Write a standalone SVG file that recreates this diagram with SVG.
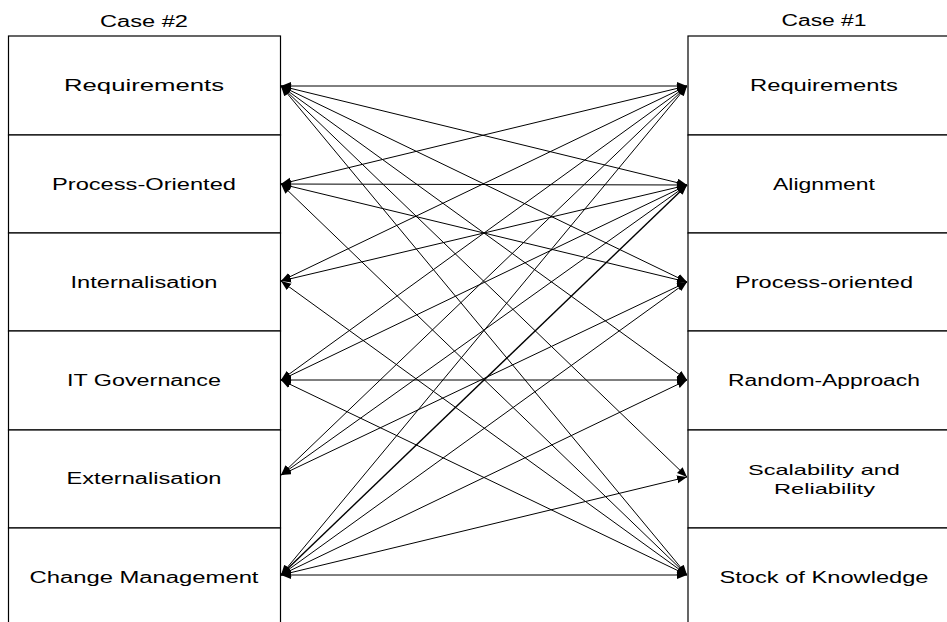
<svg xmlns="http://www.w3.org/2000/svg" width="947" height="622" viewBox="0 0 947 622">
  <style>
    .cell { fill: #ffffff; stroke: #000000; stroke-width: 1.2; }
    .label { font-family: "Liberation Sans", Arial, sans-serif; font-size: 16px; fill: #000000; text-anchor: middle; }
    .small { font-size: 15px; }
    .link { stroke: #000000; stroke-width: 1; fill: none; marker-start: url(#head); marker-end: url(#head); }
    .bold { stroke-width: 1.4; }
  </style>
  <defs>
    <marker id="head" markerUnits="userSpaceOnUse" markerWidth="11" markerHeight="9" refX="10" refY="4" orient="auto-start-reverse">
      <path d="M0,0 L10,4 L0,8 z" fill="#000000"/>
    </marker>
  </defs>
  <rect width="947" height="622" fill="#ffffff"/>

  <!-- column titles -->
  <text class="label" x="144" y="27" textLength="88" lengthAdjust="spacingAndGlyphs">Case #2</text>
  <text class="label" x="824" y="26" textLength="85" lengthAdjust="spacingAndGlyphs">Case #1</text>

  <!-- Case #2 column -->
  <g id="c2-requirements">
    <rect class="cell" x="8.5" y="36" width="272" height="99"/>
    <text class="label" x="144" y="91" textLength="160" lengthAdjust="spacingAndGlyphs">Requirements</text>
  </g>
  <g id="c2-process-oriented">
    <rect class="cell" x="8.5" y="135" width="272" height="98"/>
    <text class="label" x="144" y="190" textLength="184" lengthAdjust="spacingAndGlyphs">Process-Oriented</text>
  </g>
  <g id="c2-internalisation">
    <rect class="cell" x="8.5" y="233" width="272" height="98"/>
    <text class="label" x="144" y="288" textLength="147" lengthAdjust="spacingAndGlyphs">Internalisation</text>
  </g>
  <g id="c2-it-governance">
    <rect class="cell" x="8.5" y="331" width="272" height="99"/>
    <text class="label" x="144" y="386" textLength="154" lengthAdjust="spacingAndGlyphs">IT Governance</text>
  </g>
  <g id="c2-externalisation">
    <rect class="cell" x="8.5" y="430" width="272" height="98"/>
    <text class="label" x="144" y="484" textLength="155" lengthAdjust="spacingAndGlyphs">Externalisation</text>
  </g>
  <g id="c2-change-management">
    <rect class="cell" x="8.5" y="528" width="272" height="110"/>
    <text class="label" x="144" y="583" textLength="229" lengthAdjust="spacingAndGlyphs">Change Management</text>
  </g>

  <!-- Case #1 column -->
  <g id="c1-requirements">
    <rect class="cell" x="688" y="36" width="280" height="99"/>
    <text class="label" x="824" y="91" textLength="148" lengthAdjust="spacingAndGlyphs">Requirements</text>
  </g>
  <g id="c1-alignment">
    <rect class="cell" x="688" y="135" width="280" height="98"/>
    <text class="label" x="824" y="190" textLength="102" lengthAdjust="spacingAndGlyphs">Alignment</text>
  </g>
  <g id="c1-process-oriented">
    <rect class="cell" x="688" y="233" width="280" height="98"/>
    <text class="label" x="824" y="288" textLength="178" lengthAdjust="spacingAndGlyphs">Process-oriented</text>
  </g>
  <g id="c1-random-approach">
    <rect class="cell" x="688" y="331" width="280" height="99"/>
    <text class="label" x="824" y="386" textLength="192" lengthAdjust="spacingAndGlyphs">Random-Approach</text>
  </g>
  <g id="c1-scalability">
    <rect class="cell" x="688" y="430" width="280" height="98"/>
    <text class="label small" x="824" y="475" textLength="152" lengthAdjust="spacingAndGlyphs">Scalability and</text>
    <text class="label small" x="824.5" y="494" textLength="101" lengthAdjust="spacingAndGlyphs">Reliability</text>
  </g>
  <g id="c1-stock-of-knowledge">
    <rect class="cell" x="688" y="528" width="280" height="110"/>
    <text class="label" x="824" y="583" textLength="209" lengthAdjust="spacingAndGlyphs">Stock of Knowledge</text>
  </g>

  <!-- links between the two cases, arrowheads at both ends -->
  <g id="connectors">
    <!-- from Requirements (Case #2) -->
    <line class="link" x1="281" y1="86" x2="687" y2="86"/>
    <line class="link" x1="281" y1="86" x2="687" y2="185"/>
    <line class="link" x1="281" y1="86" x2="687" y2="282"/>
    <line class="link" x1="281" y1="86" x2="687" y2="380"/>
    <line class="link" x1="281" y1="86" x2="687" y2="477"/>
    <line class="link" x1="281" y1="86" x2="687" y2="575"/>
    <!-- from Process-Oriented -->
    <line class="link" x1="281" y1="184" x2="687" y2="86"/>
    <line class="link" x1="281" y1="184" x2="687" y2="185"/>
    <line class="link" x1="281" y1="184" x2="687" y2="282"/>
    <line class="link" x1="281" y1="184" x2="687" y2="575"/>
    <!-- from Internalisation -->
    <line class="link" x1="281" y1="281" x2="687" y2="86"/>
    <line class="link" x1="281" y1="281" x2="687" y2="185"/>
    <line class="link" x1="281" y1="281" x2="687" y2="575"/>
    <!-- from IT Governance -->
    <line class="link" x1="281" y1="380" x2="687" y2="86"/>
    <line class="link" x1="281" y1="380" x2="687" y2="185"/>
    <line class="link" x1="281" y1="380" x2="687" y2="380"/>
    <line class="link" x1="281" y1="380" x2="687" y2="575"/>
    <!-- from Externalisation -->
    <line class="link" x1="281" y1="475" x2="687" y2="86"/>
    <line class="link" x1="281" y1="475" x2="687" y2="185"/>
    <line class="link" x1="281" y1="475" x2="687" y2="282"/>
    <!-- from Change Management -->
    <line class="link" x1="281" y1="575" x2="687" y2="86"/>
    <line class="link bold" x1="281" y1="575" x2="687" y2="185"/>
    <line class="link" x1="281" y1="575" x2="687" y2="282"/>
    <line class="link" x1="281" y1="575" x2="687" y2="380"/>
    <line class="link" x1="281" y1="575" x2="687" y2="477"/>
    <line class="link" x1="281" y1="575" x2="687" y2="575"/>
  </g>
</svg>
